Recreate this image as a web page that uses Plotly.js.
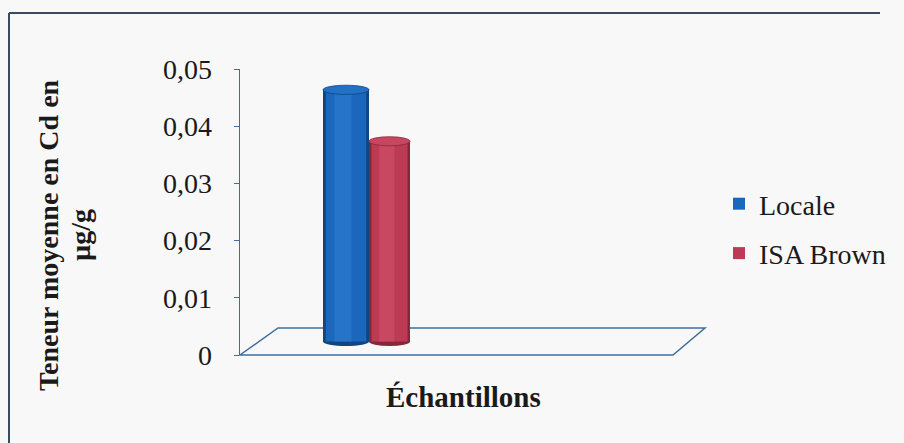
<!DOCTYPE html>
<html>
<head>
<meta charset="utf-8">
<script src="https://cdn.plot.ly/plotly-3.0.1.min.js"></script>
<style>
  html, body { margin: 0; padding: 0; background: #f8f8f8; }
  #chart { width: 904px; height: 443px; }
</style>
</head>
<body>
<div id="chart"></div>
<script>
// Mean cadmium content (µg/g) by hen breed
const categories = ["Échantillons"];
const seriesNames = ["Locale", "ISA Brown"];
const locale = [0.044];
const isaBrown = [0.035];
const yTickVals = [0, 0.01, 0.02, 0.03, 0.04, 0.05];

const seriesValues = [locale, isaBrown];

// Plot frame in pixels
const L = 240, T = 69, W = 465, H = 286;
const px = p => (p - L) / W;          // pixel x -> paper x
const py = p => (T + H - p) / H;      // pixel y -> paper y

// Depth offset of the bar row behind the front edge of the floor (data units)
const depth = 13.5 / (H / 0.05);
const capHalf = 0.0008;               // half-height of cylinder caps

// Cylinder styling per series
const styles = [
  { off: -0.46, w: 0.46, edge: "#124580", body: "#1b67bb", light: "#2574c9", cap: "#2271c6" },
  { off: 0.0,   w: 0.41, edge: "#86263a", body: "#bd3a55", light: "#c94861", cap: "#c84660" }
];
// Shading bands across the cylinder width: [start, end, colour key]
const bands = [
  [0.00, 1.00, "edge"],
  [0.06, 0.94, "body"],
  [0.25, 0.62, "light"]
];

const font = "Liberation Serif";
const traces = [];
const shapes = [];

// empty trace that registers the front value axis
traces.push({ type: "scatter", x: [], y: [], xaxis: "x", yaxis: "y", showlegend: false, hoverinfo: "skip" });

seriesValues.forEach((vals, i) => {
  const s = styles[i];
  bands.forEach(([a, b, key]) => {
    traces.push({
      type: "bar",
      x: categories,
      y: vals,
      base: 0,
      yaxis: "y2",
      name: seriesNames[i],
      legendgroup: seriesNames[i],
      showlegend: key === "body",
      offset: s.off + a * s.w,
      width: (b - a) * s.w,
      marker: { color: s[key], line: { width: 0 } },
      hoverinfo: "skip"
    });
  });
  // bottom cap (behind the bar) and top cap
  shapes.push({
    type: "circle", xref: "x", yref: "y2", layer: "below",
    x0: s.off, x1: s.off + s.w, y0: -capHalf, y1: capHalf,
    fillcolor: s.edge, line: { width: 0 }
  });
  shapes.push({
    type: "circle", xref: "x", yref: "y2", layer: "above",
    x0: s.off, x1: s.off + s.w, y0: vals[0] - capHalf, y1: vals[0] + capHalf,
    fillcolor: s.cap, line: { color: s.edge, width: 0.8 }
  });
});

// Floor of the 3-D box
shapes.push({
  type: "path", xref: "paper", yref: "paper", layer: "below",
  path: `M${px(240)},${py(355)} L${px(673)},${py(355)} L${px(705)},${py(328)} L${px(278)},${py(328)} Z`,
  line: { color: "#3f6d9e", width: 1.5 }, fillcolor: "rgba(0,0,0,0)"
});
// Frame lines around the chart
shapes.push({
  type: "line", xref: "paper", yref: "paper",
  x0: px(9), x1: px(9), y0: py(13), y1: py(443),
  line: { color: "#3b4a5c", width: 2 }
});
shapes.push({
  type: "line", xref: "paper", yref: "paper",
  x0: px(9), x1: px(880), y0: py(13), y1: py(13),
  line: { color: "#3b4a5c", width: 2 }
});

const annotations = [
  {
    text: "<b>Teneur moyenne en Cd en</b>", textangle: -90, showarrow: false,
    xref: "paper", yref: "paper", x: px(48), y: py(235),
    xanchor: "center", yanchor: "middle",
    font: { family: font, size: 28, color: "#1a1a1a" }
  },
  {
    text: "<b>µg/g</b>", textangle: -90, showarrow: false,
    xref: "paper", yref: "paper", x: px(80), y: py(235),
    xanchor: "center", yanchor: "middle",
    font: { family: font, size: 28, color: "#1a1a1a" }
  },
  {
    text: "<b>Échantillons</b>", showarrow: false,
    xref: "paper", yref: "paper", x: px(463), y: py(397),
    xanchor: "center", yanchor: "middle",
    font: { family: font, size: 29, color: "#1a1a1a" }
  }
];

const layout = {
  width: 904, height: 443,
  margin: { l: L, r: 904 - L - W, t: T, b: 443 - T - H },
  paper_bgcolor: "#f8f8f8",
  plot_bgcolor: "rgba(0,0,0,0)",
  separators: ", ",
  barmode: "overlay",
  showlegend: true,
  font: { family: font, color: "#1a1a1a" },
  xaxis: {
    type: "category", range: [-1.29, 3.36], visible: false, fixedrange: true
  },
  yaxis: {
    range: [0, 0.05], tickvals: yTickVals,
    showgrid: false, zeroline: false,
    showline: true, linecolor: "#3f6d9e", linewidth: 1.5,
    ticks: "outside", ticklen: 5, tickcolor: "#3f6d9e", tickwidth: 1,
    ticklabelstandoff: 16,
    tickfont: { family: font, size: 28, color: "#1a1a1a" }
  },
  yaxis2: {
    overlaying: "y", anchor: "x",
    range: [-depth, 0.05 - depth], visible: false
  },
  legend: {
    x: px(719), y: py(179), xanchor: "left", yanchor: "top",
    bgcolor: "rgba(0,0,0,0)", traceorder: "grouped", tracegroupgap: 10,
    font: { family: font, size: 28, color: "#1a1a1a" }
  },
  shapes: shapes,
  annotations: annotations
};

Plotly.newPlot("chart", traces, layout, { staticPlot: true });
</script>
</body>
</html>
